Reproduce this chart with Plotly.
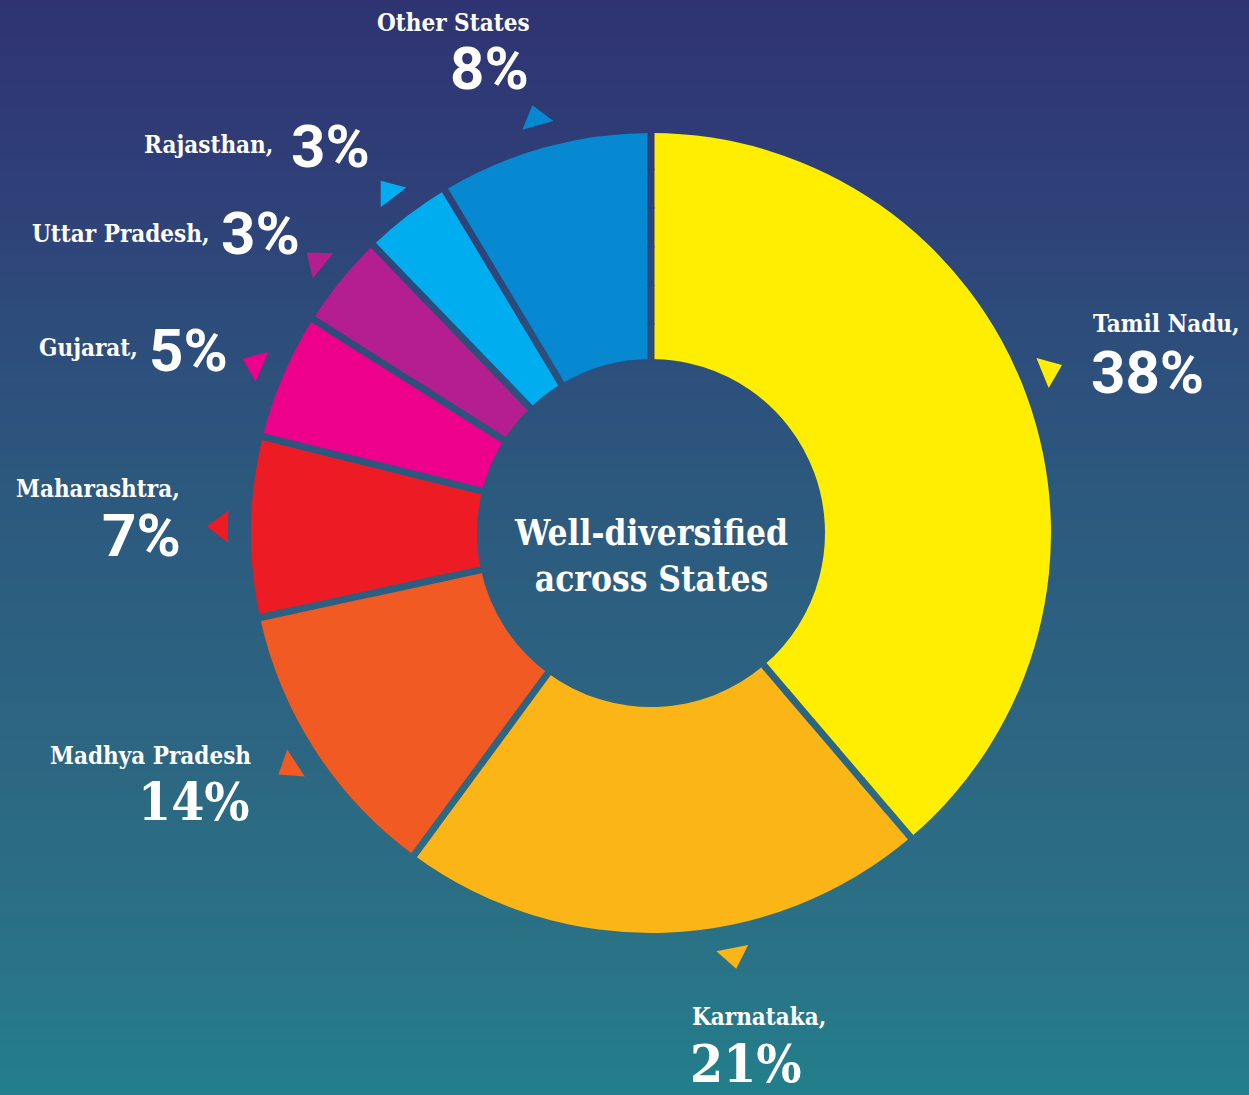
import numpy as np
import plotly.graph_objects as go

# ---------------- data ----------------
states = ["Tamil Nadu", "Karnataka", "Madhya Pradesh", "Maharashtra",
          "Gujarat", "Uttar Pradesh", "Rajasthan", "Other States"]
# slice shares as drawn in the ring (%)
slice_share = [38.7, 21.3, 11.5, 7.25, 5.1, 3.8, 3.6, 8.6]
# percentages printed next to the ring
pct_labels = ["38%", "21%", "14%", "7%", "5%", "3%", "3%", "8%"]
name_labels = ["Tamil Nadu,", "Karnataka,", "Madhya Pradesh", "Maharashtra,",
               "Gujarat,", "Uttar Pradesh,", "Rajasthan,", "Other States"]
center_text = "Well-diversified<br>across States"

# ---------------- style ----------------
W, H = 1249, 1095
CX, CY = 651, 533          # ring centre (px)
R_PIX = 400                # outer radius (px)
R_IN = 174                 # inner radius (px)
GAP = 7                    # separator width (px)
slice_colors = ["#FFEE00", "#FBB516", "#F15A22", "#ED1C24",
                "#EC008C", "#B41E8E", "#00AEEF", "#0789D1"]
bg_stops = [(0.0, "#2f3372"), (0.15, "#2f3e77"), (0.30, "#2d4c7b"),
            (0.45, "#2c597e"), (0.70, "#2c6782"), (0.88, "#2a7386"),
            (1.0, "#227f8c")]
tri_radius = 430
tri_nudge = [-2, -9, 0, 0, 0, 0, 0, 0]   # angular nudge of pointer triangles (deg)

NAME_FONT = "DejaVu Serif Condensed, DejaVu Serif, serif"
SLAB_FONT = "DejaVu Serif Condensed, DejaVu Serif, serif"
PCT_FONT = "Roboto, Inter, sans-serif"

# (name pos, name anchor, pct pos, pct anchor, pct slab?)
label_layout = [
    ((1091, 323), "left", (1089, 372), "left", False),
    ((690, 1016), "left", (688, 1063), "left", True),
    ((253, 755), "right", (252, 801), "right", True),
    ((182, 488), "right", (183, 535), "right", False),
    ((140, 347), "right", (147, 350), "left", False),
    ((211, 233), "right", (219, 233), "left", False),
    ((275, 144), "right", (289, 146), "left", False),
    ((532, 22), "right", (531, 68), "right", False),
]


def hex2rgb(h):
    h = h.lstrip("#")
    return np.array([int(h[i:i + 2], 16) for i in (0, 2, 4)], dtype=float)


def grad(t):
    t = min(max(t, 0.0), 1.0)
    for (t0, c0), (t1, c1) in zip(bg_stops[:-1], bg_stops[1:]):
        if t0 <= t <= t1:
            f = (t - t0) / (t1 - t0)
            c = hex2rgb(c0) * (1 - f) + hex2rgb(c1) * f
            return "rgb(%d,%d,%d)" % tuple(np.round(c))
    return bg_stops[-1][1]


fig = go.Figure()

# ring
fig.add_trace(go.Pie(
    labels=states, values=slice_share, sort=False, direction="clockwise",
    rotation=0, hole=R_IN / R_PIX, textinfo="none", hoverinfo="label+percent",
    marker=dict(colors=slice_colors, line=dict(width=0)),
    domain=dict(x=[(CX - R_PIX) / W, (CX + R_PIX) / W],
                y=[1 - (CY + R_PIX) / H, 1 - (CY - R_PIX) / H]),
    showlegend=False,
))

total = sum(slice_share)
cum = np.cumsum([0] + slice_share)

# pointer triangles at each slice's mid angle, pointing outward
mid_deg = [(cum[i] + slice_share[i] / 2) / total * 360 + tri_nudge[i]
           for i in range(len(states))]
tx = [CX + tri_radius * np.sin(np.radians(a)) for a in mid_deg]
ty = [CY - tri_radius * np.cos(np.radians(a)) for a in mid_deg]
fig.add_trace(go.Scatter(
    x=tx, y=ty, mode="markers", hoverinfo="skip", showlegend=False,
    marker=dict(symbol="triangle-up", size=28, angle=mid_deg,
                color=slice_colors, line=dict(width=0)),
))

shapes = []
# gradient background
N = 160
for i in range(N):
    t = (i + 0.5) / N
    shapes.append(dict(type="rect", xref="paper", yref="paper", layer="below",
                       x0=0, x1=1, y0=1 - (i + 1) / N - 0.002, y1=1 - i / N,
                       fillcolor=grad(t), line=dict(width=0)))

# separators between slices, in the local background colour
SEG = 6
for k in range(len(states)):
    a = np.radians(cum[k] / total * 360)
    rs = np.linspace(R_IN - 3, R_PIX + 3, SEG + 1)
    for j in range(SEG):
        r0 = rs[j] - (1.5 if j > 0 else 0)
        r1 = rs[j + 1]
        x0 = CX + r0 * np.sin(a)
        y0 = CY - r0 * np.cos(a)
        x1 = CX + r1 * np.sin(a)
        y1 = CY - r1 * np.cos(a)
        shapes.append(dict(type="line", xref="x", yref="y", layer="above",
                           x0=x0, y0=y0, x1=x1, y1=y1,
                           line=dict(color=grad(((y0 + y1) / 2) / H), width=GAP)))

annotations = []
for i in range(len(states)):
    (nx, ny), na, (px, py), pa, slab = label_layout[i]
    annotations.append(dict(
        x=nx, y=ny, xref="x", yref="y", text=name_labels[i], showarrow=False,
        xanchor=na, yanchor="middle",
        font=dict(family=NAME_FONT, size=24, color="white", weight=700)))
    annotations.append(dict(
        x=px, y=py, xref="x", yref="y", text=pct_labels[i], showarrow=False,
        xanchor=pa, yanchor="middle",
        font=dict(family=SLAB_FONT if slab else PCT_FONT,
                  size=53 if slab else 60, color="white", weight=700)))
annotations.append(dict(
    x=CX, y=CY + 22, xref="x", yref="y", text=center_text, showarrow=False,
    xanchor="center", yanchor="middle",
    font=dict(family=SLAB_FONT, size=35, color="white", weight=700)))

fig.update_layout(
    width=W, height=H, margin=dict(l=0, r=0, t=0, b=0),
    paper_bgcolor="#2c5a7e", plot_bgcolor="rgba(0,0,0,0)",
    xaxis=dict(range=[0, W], visible=False, fixedrange=True, domain=[0, 1]),
    yaxis=dict(range=[H, 0], visible=False, fixedrange=True, domain=[0, 1]),
    shapes=shapes, annotations=annotations, showlegend=False,
)

fig.write_html("out.html")
